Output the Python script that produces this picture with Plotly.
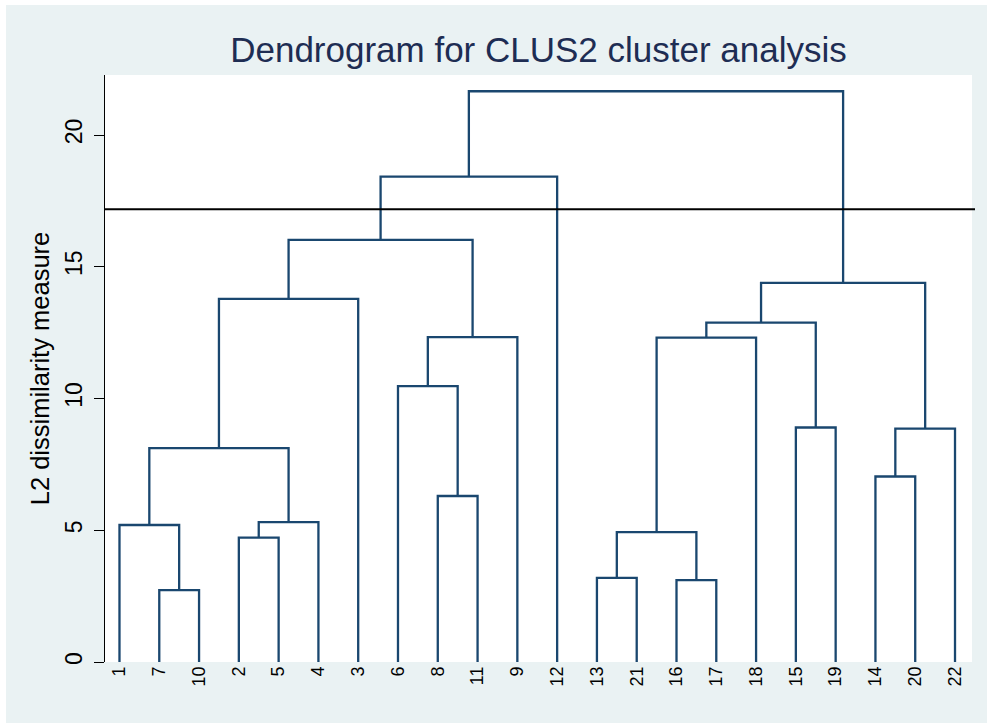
import plotly.graph_objects as go

# ---- data ----
leaf_labels = ["1", "7", "10", "2", "5", "4", "3", "6", "8", "11", "9", "12",
               "13", "21", "16", "17", "18", "15", "19", "14", "20", "22"]
# merges: (left member, right member, dissimilarity); new clusters named c1, c2, ...
merge_left = ["7", "1", "2", "c3", "c2", "c5", "8", "6", "c8", "c6", "c10",
              "13", "16", "c12", "c14", "15", "c15", "14", "c18", "c17", "c11"]
merge_right = ["10", "c1", "5", "4", "c4", "3", "11", "c7", "9", "c9", "12",
               "21", "17", "c13", "18", "19", "c16", "20", "22", "c19", "c20"]
merge_height = [2.73, 5.20, 4.72, 5.31, 8.12, 13.78, 6.30, 10.47, 12.33, 16.02, 18.42,
                3.19, 3.11, 4.93, 12.31, 8.90, 12.88, 7.04, 8.86, 14.39, 21.66]
cut_height = 17.18
y_ticks = [0, 5, 10, 15, 20]

LINE = "#1a476f"
BG = "#EAF2F3"

# positions of nodes
pos = {lab: (i + 1, 0.0) for i, lab in enumerate(leaf_labels)}
xs, ys = [], []
for k, (a, b, h) in enumerate(zip(merge_left, merge_right, merge_height)):
    xa, ya = pos[a]
    xb, yb = pos[b]
    xs += [xa, xa, xb, xb, None]
    ys += [ya, h, h, yb, None]
    pos["c%d" % (k + 1)] = ((xa + xb) / 2, h)

fig = go.Figure()
fig.add_trace(go.Scatter(x=xs, y=ys, mode="lines",
                         line=dict(color=LINE, width=2.3),
                         hoverinfo="skip", showlegend=False))

W, H = 987, 723
ml, mr, mt, mb = 105, 15, 75, 61
pw, ph = W - ml - mr, H - mt - mb

def px_x(p):  # page pixel -> paper x
    return (p - ml) / pw

def px_y(p):  # page pixel -> paper y
    return (H - mb - p) / ph

shapes = [
    # thin white border strips at left and top
    dict(type="rect", xref="paper", yref="paper",
         x0=px_x(-5), x1=px_x(6), y0=px_y(H + 5), y1=px_y(-5),
         fillcolor="white", line=dict(width=0), layer="below"),
    dict(type="rect", xref="paper", yref="paper",
         x0=px_x(-5), x1=px_x(W + 5), y0=px_y(5), y1=px_y(-5),
         fillcolor="white", line=dict(width=0), layer="below"),
    dict(type="rect", xref="paper", yref="paper", x0=0, x1=1, y0=0, y1=1,
         fillcolor="white", line=dict(width=0), layer="below"),
    dict(type="line", xref="paper", yref="y", x0=0, x1=px_x(975),
         y0=cut_height, y1=cut_height, line=dict(color="black", width=2)),
]

fig.update_layout(
    width=W, height=H,
    margin=dict(l=ml, r=mr, t=mt, b=mb, pad=0),
    paper_bgcolor=BG, plot_bgcolor="white",
    shapes=shapes,
    font=dict(family="Liberation Sans, Arial, sans-serif", color="black"),
    title=dict(text="Dendrogram for CLUS2 cluster analysis",
               x=0.5, xref="paper", xanchor="center",
               y=1 - 50 / H, yref="container", yanchor="middle",
               font=dict(size=35, color="#1e2d53")),
    xaxis=dict(range=[0.636, 22.427], tickvals=list(range(1, len(leaf_labels) + 1)),
               ticktext=leaf_labels, tickangle=-90, ticks="", showline=False,
               showgrid=False, zeroline=False, tickfont=dict(size=18, color="black")),
    yaxis=dict(range=[0, ph / 26.35], tickvals=y_ticks, tickangle=-90,
               ticks="outside", ticklen=10, tickwidth=1.3, tickcolor="black",
               showline=True, linecolor="black", linewidth=1.3,
               showgrid=False, zeroline=False, ticklabelstandoff=3,
               tickfont=dict(size=23, color="black"),
               title=dict(text="L2 dissimilarity measure", font=dict(size=25.5, color="black"),
                          standoff=3)),
)

fig.write_html(
    "out.html",
    config={"displayModeBar": False},
    post_script="document.body.style.margin='0';document.body.style.overflow='hidden';",
)
